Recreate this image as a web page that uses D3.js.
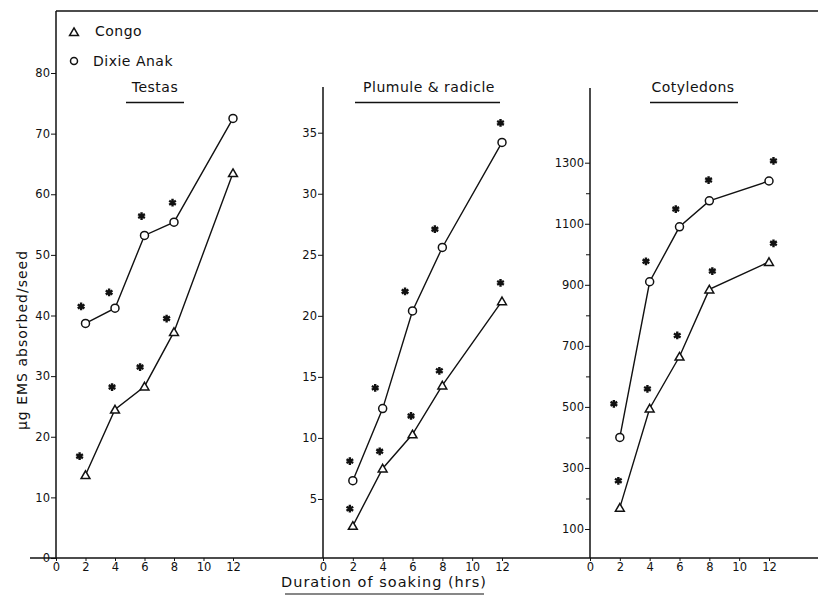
<!DOCTYPE html>
<html>
<head>
<meta charset="utf-8">
<script src="https://cdn.jsdelivr.net/npm/d3@7.9.0/dist/d3.min.js"></script>
<style>
  body { margin: 0; background: #fff; }
  svg { display: block; }
  text { font-family: "DejaVu Sans", sans-serif; fill: #111; }
  .tick text { font-size: 11.5px; }
  .axis path, .axis line { stroke: #111; }
</style>
</head>
<body>
<div id="viz"></div>
<script>
// hours of soaking
const hours = [2, 4, 6, 8, 12];
const xTicks = [0, 2, 4, 6, 8, 10, 12];

// Testas
const testasCongo = [13.7, 24.5, 28.3, 37.3, 63.5];
const testasDixie = [38.7, 41.2, 53.2, 55.4, 72.5];
const testasStarsCongo = [[1.6, 16.8], [3.8, 28.2], [5.7, 31.5], [7.5, 39.5]];
const testasStarsDixie = [[1.7, 41.5], [3.6, 43.8], [5.8, 56.4], [7.9, 58.6]];
const testasTicks = [0, 10, 20, 30, 40, 50, 60, 70, 80];

// Plumule & radicle
const plumuleCongo = [2.8, 7.5, 10.3, 14.3, 21.2];
const plumuleDixie = [6.5, 12.4, 20.4, 25.6, 34.2];
const plumuleStarsCongo = [[1.8, 4.2], [3.8, 8.9], [5.9, 11.8], [7.8, 15.5], [11.9, 22.7]];
const plumuleStarsDixie = [[1.8, 8.1], [3.5, 14.1], [5.5, 22.0], [7.5, 27.1], [11.9, 35.8]];
const plumuleTicks = [5, 10, 15, 20, 25, 30, 35];

// Cotyledons
const cotyCongo = [170, 495, 665, 885, 975];
const cotyDixie = [400, 910, 1090, 1175, 1240];
const cotyStarsCongo = [[1.9, 258], [3.85, 559], [5.85, 734], [8.2, 945], [12.3, 1036]];
const cotyStarsDixie = [[1.6, 510], [3.75, 977], [5.75, 1148], [7.95, 1243], [12.3, 1306]];
const cotyTicks = [100, 300, 500, 700, 900, 1100, 1300];
const cotyMinor = [200, 400, 600, 800, 1000, 1200];

const width = 818, height = 602;
const baseY = 558;

const svg = d3.select("#viz").append("svg")
    .attr("width", width)
    .attr("height", height);

const panels = [
    {
        title: "Testas", titleX: 155, lineFrom: 126, lineTo: 184,
        x0: 56, x12: 233, axisTop: 11,
        yDomain: [0, 80], yRange: [558, 73],
        ticks: testasTicks, minor: [],
        congo: testasCongo, dixie: testasDixie,
        starsC: testasStarsCongo, starsD: testasStarsDixie
    },
    {
        title: "Plumule & radicle", titleX: 429, lineFrom: 355, lineTo: 500,
        x0: 323, x12: 502, axisTop: 87,
        yDomain: [0, 35], yRange: [560, 132.7],
        ticks: plumuleTicks, minor: [],
        congo: plumuleCongo, dixie: plumuleDixie,
        starsC: plumuleStarsCongo, starsD: plumuleStarsDixie
    },
    {
        title: "Cotyledons", titleX: 693, lineFrom: 650, lineTo: 738,
        x0: 590, x12: 769, axisTop: 88,
        yDomain: [100, 1300], yRange: [529, 162.7],
        ticks: cotyTicks, minor: cotyMinor,
        congo: cotyCongo, dixie: cotyDixie,
        starsC: cotyStarsCongo, starsD: cotyStarsDixie
    }
];

// frame: top line and the common baseline
svg.append("line")
    .attr("x1", 56).attr("x2", width)
    .attr("y1", 11).attr("y2", 11)
    .attr("stroke", "#111").attr("stroke-width", 1.5);
svg.append("line")
    .attr("x1", 30).attr("x2", width)
    .attr("y1", baseY).attr("y2", baseY)
    .attr("stroke", "#111").attr("stroke-width", 1.5);

const tri = d3.symbol(d3.symbolTriangle, 34);
const star = d3.symbol(d3.symbolAsterisk, 42);

panels.forEach(p => {
    const x = d3.scaleLinear().domain([0, 12]).range([p.x0, p.x12]);
    const y = d3.scaleLinear().domain(p.yDomain).range(p.yRange);

    // vertical axis line
    svg.append("line")
        .attr("x1", p.x0).attr("x2", p.x0)
        .attr("y1", p.axisTop).attr("y2", baseY)
        .attr("stroke", "#111").attr("stroke-width", 1.5);

    const yAxis = svg.append("g")
        .attr("class", "axis")
        .attr("transform", `translate(${p.x0},0)`)
        .call(d3.axisLeft(y).tickValues(p.ticks).tickFormat(d3.format("d"))
            .tickSize(5).tickPadding(1));
    yAxis.select(".domain").remove();

    if (p.minor.length) {
        const m = svg.append("g")
            .attr("class", "axis")
            .attr("transform", `translate(${p.x0},0)`)
            .call(d3.axisLeft(y).tickValues(p.minor).tickSize(4).tickFormat(""));
        m.select(".domain").remove();
    }

    const xAxis = svg.append("g")
        .attr("class", "axis")
        .attr("transform", `translate(0,${baseY})`)
        .call(d3.axisBottom(x).tickValues(xTicks).tickSize(3).tickPadding(2));
    xAxis.select(".domain").remove();

    // title with underline
    svg.append("text")
        .attr("x", p.titleX).attr("y", 92)
        .attr("text-anchor", "middle")
        .attr("font-size", "14px")
        .attr("letter-spacing", "0.5px")
        .text(p.title);
    svg.append("line")
        .attr("x1", p.lineFrom).attr("x2", p.lineTo)
        .attr("y1", 102.5).attr("y2", 102.5)
        .attr("stroke", "#111").attr("stroke-width", 1.5);

    const line = d3.line().x((d, i) => x(hours[i])).y(d => y(d));

    [p.congo, p.dixie].forEach(s => {
        svg.append("path")
            .datum(s)
            .attr("d", line)
            .attr("fill", "none")
            .attr("stroke", "#111")
            .attr("stroke-width", 1.4);
    });

    svg.append("g").selectAll("circle")
        .data(p.dixie)
        .join("circle")
        .attr("cx", (d, i) => x(hours[i]))
        .attr("cy", d => y(d))
        .attr("r", 4)
        .attr("fill", "#fff")
        .attr("stroke", "#111")
        .attr("stroke-width", 1.5);

    svg.append("g").selectAll("path")
        .data(p.congo)
        .join("path")
        .attr("d", tri)
        .attr("transform", (d, i) => `translate(${x(hours[i])},${y(d) + 1})`)
        .attr("fill", "#fff")
        .attr("stroke", "#111")
        .attr("stroke-width", 1.5);

    svg.append("g").selectAll("path")
        .data(p.starsC.concat(p.starsD))
        .join("path")
        .attr("d", star)
        .attr("transform", d => `translate(${x(d[0])},${y(d[1])})`)
        .attr("fill", "#111")
        .attr("stroke", "#111")
        .attr("stroke-width", 2.4);
});

// legend
svg.append("path")
    .attr("d", tri)
    .attr("transform", "translate(74,33)")
    .attr("fill", "#fff").attr("stroke", "#111").attr("stroke-width", 1.5);
svg.append("text")
    .attr("x", 95).attr("y", 36)
    .attr("font-size", "14px")
    .attr("letter-spacing", "0.5px")
    .text("Congo");
svg.append("circle")
    .attr("cx", 74).attr("cy", 61).attr("r", 3.5)
    .attr("fill", "#fff").attr("stroke", "#111").attr("stroke-width", 1.5);
svg.append("text")
    .attr("x", 93).attr("y", 66)
    .attr("font-size", "14px")
    .attr("letter-spacing", "0.5px")
    .text("Dixie Anak");

// axis titles
svg.append("text")
    .attr("transform", "translate(27,340) rotate(-90)")
    .attr("text-anchor", "middle")
    .attr("font-size", "14px")
    .attr("letter-spacing", "1px")
    .text("µg EMS absorbed/seed");

svg.append("text")
    .attr("x", 384).attr("y", 587)
    .attr("text-anchor", "middle")
    .attr("font-size", "14.5px")
    .attr("letter-spacing", "1px")
    .text("Duration of soaking (hrs)");
svg.append("line")
    .attr("x1", 285).attr("x2", 484)
    .attr("y1", 594).attr("y2", 594)
    .attr("stroke", "#111").attr("stroke-width", 1.2);
</script>
</body>
</html>
